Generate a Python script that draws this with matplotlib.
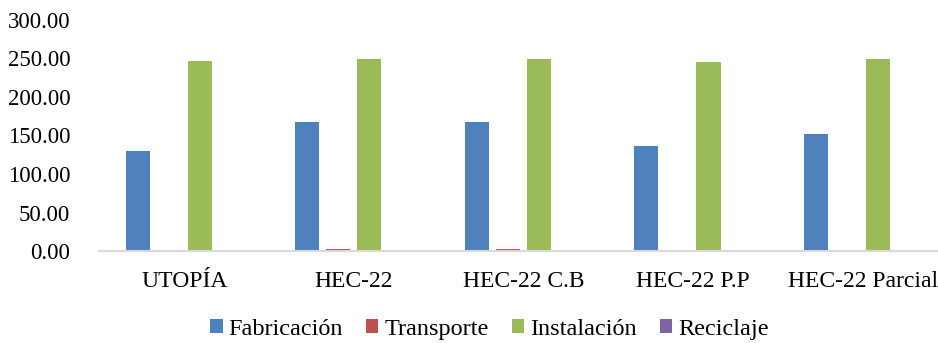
import matplotlib
matplotlib.use("Agg")
import matplotlib.pyplot as plt
import numpy as np

# emissions per stage for each model
cases = ["UTOPÍA", "HEC-22", "HEC-22 C.B", "HEC-22 P.P", "HEC-22 Parcial"]
fabricacion = [130.0, 167.5, 167.0, 136.5, 151.5]
transporte = [1.2, 2.5, 2.5, 1.2, 1.5]
instalacion = [246.5, 249.0, 249.0, 245.5, 249.0]
reciclaje = [1.0, 1.5, 1.5, 1.0, 1.0]

series = [
    ("Fabricación", fabricacion, "#4f81bd"),
    ("Transporte", transporte, "#c0504d"),
    ("Instalación", instalacion, "#9bbb59"),
    ("Reciclaje", reciclaje, "#8064a2"),
]

plt.rcParams['font.family'] = ['Liberation Serif', 'DejaVu Serif']

fig = plt.figure(figsize=(9.38, 3.43), dpi=100)
ax = fig.add_axes([0.106, 0.268, 0.904, 0.674])

x = np.arange(len(cases))
w = 0.142
step = 0.183
for i, (name, vals, col) in enumerate(series):
    ax.bar(x + (i - 1.5) * step, vals, w, color=col, label=name, zorder=2)

ax.set_xlim(-0.5, len(cases) - 0.5)
ax.set_ylim(0, 300)
ax.set_yticks(np.arange(0, 301, 50))
ax.set_yticklabels(["%.2f" % v for v in np.arange(0, 301, 50)], fontsize=16.5)
ax.set_xticks(x)
ax.set_xticklabels(cases, fontsize=17)
ax.tick_params(axis='both', length=0)
ax.tick_params(axis='y', pad=21)
ax.tick_params(axis='x', pad=14)

for s in ["top", "right", "left"]:
    ax.spines[s].set_visible(False)
ax.spines["bottom"].set_color("#d9d9d9")
ax.spines["bottom"].set_linewidth(1.5)

leg = fig.legend(loc="lower center", bbox_to_anchor=(0.522, -0.055), ncol=4,
                 frameon=False, fontsize=17.5, handlelength=0.5, handleheight=0.5,
                 handletextpad=0.25, columnspacing=0.95)

fig.savefig("out.png", dpi=100)
